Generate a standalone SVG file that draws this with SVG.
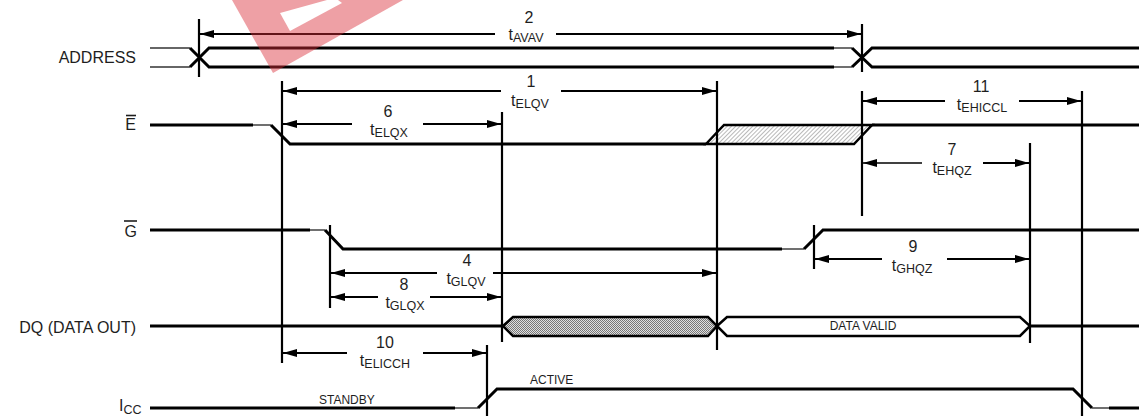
<svg xmlns="http://www.w3.org/2000/svg" width="1139" height="416" viewBox="0 0 1139 416">
<style>
text{font-family:"Liberation Sans",Arial,sans-serif;fill:#1e1e1e}
.lbl{font-size:16px;text-anchor:end}
.num{font-size:16px;text-anchor:middle}
.sm{font-size:12px}
.sub{font-size:12.5px}
.sig{fill:none;stroke:#000;stroke-width:3;stroke-linejoin:miter}
.thin{fill:none;stroke:#333;stroke-width:1.4}
.vl{stroke:#000;stroke-width:2.2}
.ar{stroke:#000;stroke-width:2;marker-end:url(#ah)}
.ov{stroke:#1e1e1e;stroke-width:1.6}
</style>
<defs>
<marker id="ah" viewBox="0 0 14 8" refX="14" refY="4" markerWidth="14" markerHeight="8" markerUnits="userSpaceOnUse" orient="auto"><path d="M0,0 L14,4 L0,8 z" fill="#000"/></marker>
<pattern id="hatchE" width="3" height="3" patternUnits="userSpaceOnUse" patternTransform="rotate(45)"><rect width="3" height="3" fill="#fff"/><line x1="0" y1="0" x2="0" y2="3" stroke="#8a8a8a" stroke-width="1.2"/></pattern>
<pattern id="dotQ" width="2" height="2" patternUnits="userSpaceOnUse"><rect width="2" height="2" fill="#e0e0e0"/><rect width="1" height="1" fill="#777"/><rect x="1" y="1" width="1" height="1" fill="#777"/></pattern>
</defs>

<g id="labels">
<text class="lbl" x="136" y="63">ADDRESS</text>
<text class="lbl" x="136" y="130">E</text>
<line class="ov" x1="126" y1="115.5" x2="136" y2="115.5"/>
<text class="lbl" x="137" y="237">G</text>
<line class="ov" x1="124" y1="221" x2="137" y2="221"/>
<text class="lbl" x="136" y="333">DQ (DATA OUT)</text>
<text x="119" y="411" font-size="16">I<tspan class="sub" dy="3">CC</tspan></text>
</g>

<g id="address">
<polyline class="thin" points="150,48 190,48"/>
<polyline class="thin" points="150,67 190,67"/>
<path class="sig" d="M190,48 L209,67 L834,67 M190,67 L209,48 L834,48"/>
<polyline class="thin" points="834,48 852,48"/>
<polyline class="thin" points="834,67 852,67"/>
<path class="sig" d="M852,48 L872,67 L1139,67 M852,67 L872,48 L1139,48"/>
</g>

<g id="e-signal">
<polyline class="sig" points="150,125 253,125"/>
<polyline class="thin" points="253,125 271,125"/>
<polyline class="sig" points="271,125 290,144 706,144"/>
<polygon points="706,144 724,125 872,125 854,144" fill="url(#hatchE)" stroke="#000" stroke-width="2.5"/>
<polyline class="sig" points="872,125 1139,125"/>
</g>

<g id="g-signal">
<polyline class="sig" points="150,230 310,230"/>
<polyline class="thin" points="310,230 325,230"/>
<polyline class="sig" points="325,230 343,249 782,249"/>
<polyline class="thin" points="782,249 804,249"/>
<polyline class="sig" points="804,249 823,230 1139,230"/>
</g>

<g id="dq-signal">
<polyline class="sig" points="150,326 503,326"/>
<polygon points="503,326 513,317 708,317 717,326 708,336 513,336" fill="url(#dotQ)" stroke="#000" stroke-width="2.5"/>
<polygon points="717,326 727,317 1020,317 1030,326 1020,336 727,336" fill="#fff" stroke="#000" stroke-width="2.5"/>
<text class="sm" x="863" y="330" text-anchor="middle">DATA VALID</text>
<polyline class="sig" points="1030,326 1139,326"/>
</g>

<g id="icc-signal">
<polyline class="sig" points="150,408 455,408"/>
<polyline class="thin" points="455,408 478,408"/>
<polyline class="sig" points="478,408 497,389 1073,389 1092,408"/>
<polyline class="thin" points="1092,408 1109,408"/>
<polyline class="sig" points="1109,408 1139,408"/>
<text class="sm" x="319" y="404">STANDBY</text>
<text class="sm" x="530" y="384">ACTIVE</text>
</g>

<g id="connectors">
<line class="vl" x1="199" y1="19" x2="199" y2="77"/>
<line class="vl" x1="862" y1="24" x2="862" y2="72"/>
<line class="vl" x1="862" y1="91" x2="862" y2="216"/>
<line class="vl" x1="282" y1="81" x2="282" y2="363"/>
<line class="vl" x1="717" y1="81" x2="717" y2="350"/>
<line class="vl" x1="502" y1="112" x2="502" y2="342"/>
<line class="vl" x1="1082" y1="91" x2="1082" y2="416"/>
<line class="vl" x1="1030" y1="143" x2="1030" y2="343"/>
<line class="vl" x1="330" y1="225" x2="330" y2="308"/>
<line class="vl" x1="814" y1="225" x2="814" y2="269"/>
<line class="vl" x1="487" y1="345" x2="487" y2="416"/>

<line class="ar" x1="495" y1="34" x2="200" y2="34"/>
<line class="ar" x1="556" y1="34" x2="861" y2="34"/>
<line class="ar" x1="501" y1="91" x2="283" y2="91"/>
<line class="ar" x1="561" y1="91" x2="716" y2="91"/>
<line class="ar" x1="352" y1="124" x2="283" y2="124"/>
<line class="ar" x1="423" y1="124" x2="501" y2="124"/>
<line class="ar" x1="945" y1="101" x2="863" y2="101"/>
<line class="ar" x1="1019" y1="101" x2="1081" y2="101"/>
<line class="ar" x1="922" y1="163" x2="863" y2="163" style="stroke-width:1.5"/>
<line class="ar" x1="983" y1="163" x2="1029" y2="163"/>
<line class="ar" x1="882" y1="259" x2="815" y2="259"/>
<line class="ar" x1="947" y1="259" x2="1029" y2="259"/>
<line class="ar" x1="437" y1="273" x2="331" y2="273"/>
<line class="ar" x1="493" y1="273" x2="716" y2="273"/>
<line class="ar" x1="378" y1="297" x2="331" y2="297"/>
<line class="ar" x1="430" y1="297" x2="501" y2="297"/>
<line class="ar" x1="347" y1="353" x2="283" y2="353"/>
<line class="ar" x1="423" y1="353" x2="486" y2="353"/>

<text class="num" x="529" y="23">2</text>
<text class="num" x="526" y="40">t<tspan class="sub" dy="2">AVAV</tspan></text>
<text class="num" x="531" y="87">1</text>
<text class="num" x="530" y="106">t<tspan class="sub" dy="2">ELQV</tspan></text>
<text class="num" x="388" y="117">6</text>
<text class="num" x="389" y="135">t<tspan class="sub" dy="2">ELQX</tspan></text>
<text class="num" x="981" y="92">11</text>
<text class="num" x="982" y="110">t<tspan class="sub" dy="2">EHICCL</tspan></text>
<text class="num" x="952" y="155">7</text>
<text class="num" x="952" y="173">t<tspan class="sub" dy="2">EHQZ</tspan></text>
<text class="num" x="913" y="252">9</text>
<text class="num" x="912" y="271">t<tspan class="sub" dy="2">GHQZ</tspan></text>
<text class="num" x="467" y="266">4</text>
<text class="num" x="466" y="284">t<tspan class="sub" dy="2">GLQV</tspan></text>
<text class="num" x="404" y="290">8</text>
<text class="num" x="405" y="308">t<tspan class="sub" dy="2">GLQX</tspan></text>
<text class="num" x="385" y="348">10</text>
<text class="num" x="385" y="366">t<tspan class="sub" dy="2">ELICCH</tspan></text>
</g>

<g id="watermark">
<polygon points="232,0 273,73 403,0" fill="rgb(217,44,55)" fill-opacity="0.45"/>
<polygon points="280,13 290,31 342,3 338,0 327,0" fill="#fff"/>
</g>
</svg>
